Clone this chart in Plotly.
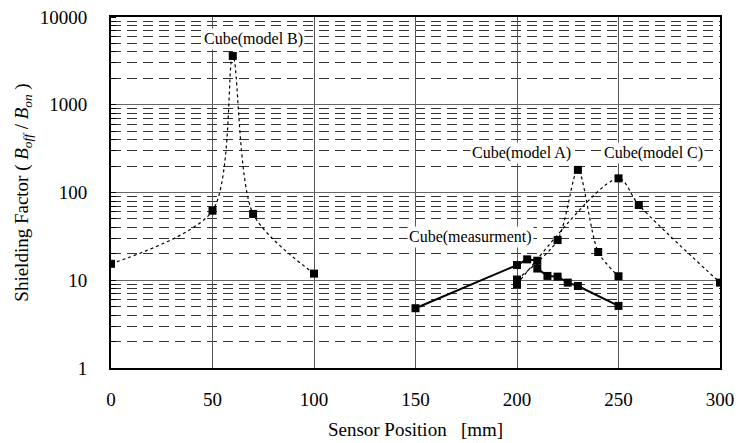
import math
import plotly.graph_objects as go

# Data
meas_x = [150, 200, 205, 210, 210, 215, 220, 225, 230, 250]
meas_y = [4.8, 14.9, 17.3, 16.7, 13.6, 11.2, 11.0, 9.4, 8.6, 5.1]

modelA_x = [200, 220, 230, 240, 250]
modelA_y = [10.2, 28.7, 181, 21, 11.1]

modelB_x = [0, 50, 60, 70, 100]
modelB_y = [15.4, 62, 3600, 57, 11.9]

modelC_x = [200, 250, 260, 300]
modelC_y = [9.0, 145, 72, 9.4]

labels = ["Cube(model B)", "Cube(model A)", "Cube(model C)", "Cube(measurment)"]
label_x = [70, 202, 267, 177]
label_y = [5600, 282, 282, 31]

x_ticks = [0, 50, 100, 150, 200, 250, 300]
y_ticks = [1, 10, 100, 1000, 10000]

FONT = "Liberation Serif"

fig = go.Figure()

for xs, ys in [(modelB_x, modelB_y), (modelA_x, modelA_y), (modelC_x, modelC_y)]:
    fig.add_trace(go.Scatter(
        x=xs, y=ys, mode="lines+markers",
        line=dict(color="black", width=1.2, dash="dot", shape="spline", smoothing=0.8),
        marker=dict(symbol="square", size=8, color="black"),
        showlegend=False, hoverinfo="skip"))

fig.add_trace(go.Scatter(
    x=meas_x, y=meas_y, mode="lines+markers",
    line=dict(color="black", width=2),
    marker=dict(symbol="square", size=8, color="black"),
    showlegend=False, hoverinfo="skip"))

for t, ax, ay in zip(labels, label_x, label_y):
    fig.add_annotation(x=ax, y=math.log10(ay), xref="x", yref="y", text=t,
                       showarrow=False, bgcolor="white",
                       font=dict(family=FONT, size=16, color="black"))

fig.update_xaxes(
    range=[0, 300], tickvals=x_ticks, ticktext=[str(v) for v in x_ticks],
    showgrid=True, gridcolor="#555555", gridwidth=1,
    showline=True, linecolor="black", linewidth=2, mirror=True,
    ticks="", ticklabelstandoff=13, zeroline=False, automargin=False,
    ticklabeloverflow="allow",
    tickfont=dict(family=FONT, size=19, color="black"),
    title=dict(text="Sensor Position   [mm]", font=dict(family=FONT, size=19, color="black"), standoff=14))

fig.update_yaxes(
    type="log", range=[0, 4], tickvals=y_ticks, ticktext=[str(v) for v in y_ticks],
    showgrid=True, gridcolor="#666666", gridwidth=1,
    showline=True, linecolor="black", linewidth=2, mirror=True,
    ticks="", ticklabelstandoff=18, zeroline=False, automargin=False,
    ticklabeloverflow="allow",
    minor=dict(dtick="D1", showgrid=True, gridcolor="#333333", griddash="10px,6px",
               gridwidth=1, ticks="inside", ticklen=5, tickcolor="black"),
    tickfont=dict(family=FONT, size=19, color="black"),
    title=dict(text="Shielding Factor ( <i>B</i><sub><i>off</i></sub> / <i>B</i><sub><i>on</i></sub> )",
               font=dict(family=FONT, size=19, color="black"), standoff=6))

fig.update_layout(
    width=735, height=435,
    margin=dict(l=103, r=23, t=9, b=75, autoexpand=False),
    paper_bgcolor="white", plot_bgcolor="white",
)

fig.write_html("out.html")
